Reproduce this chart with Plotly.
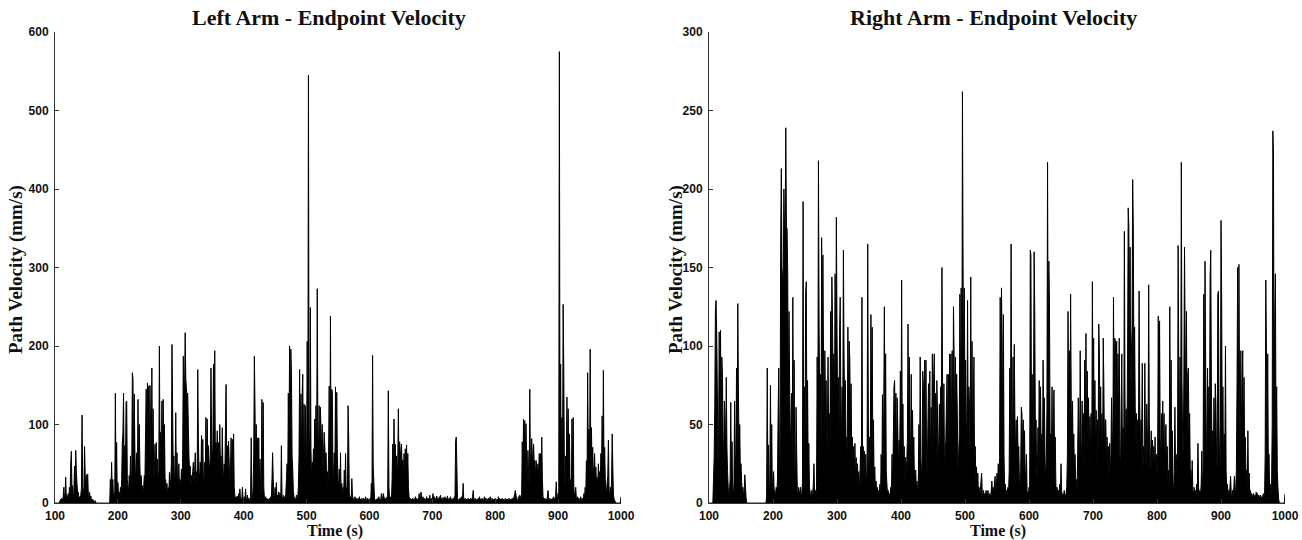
import plotly.graph_objects as go

# ---- data: velocity samples, one value per second, rows of 10 s starting at t = 100 s ----
t_start = 100
x_ticks = [100, 200, 300, 400, 500, 600, 700, 800, 900, 1000]
left_y_ticks = [0, 100, 200, 300, 400, 500, 600]
right_y_ticks = [0, 50, 100, 150, 200, 250, 300]

left_rows = [
    [0,0,0,0,0,0,0,0,3,5],
    [3,6,2,8,20,5,12,33,6,10],
    [4,12,6,20,9,50,66,15,22,8],
    [12,47,20,67,39,25,9,14,5,8],
    [4,10,18,112,22,12,20,72,37,15],
    [36,20,37,10,6,14,4,9,3,5],
    [2,4,1,2,3,1,0,0,0,0],
    [0,0,0,0,0,0,0,0,0,0],
    [0,0,0,0,0,0,0,0,30,12],
    [52,18,30,6,12,4,140,20,77,8],
    [26,10,14,6,20,8,30,75,90,140],
    [25,73,40,128,130,30,22,12,35,20],
    [60,15,40,166,158,50,139,70,28,40],
    [64,30,132,40,100,47,20,35,15,22],
    [12,20,35,30,88,145,60,153,90,149],
    [60,150,100,40,172,50,120,30,40,75],
    [35,77,30,56,25,40,200,50,90,45],
    [130,60,132,50,100,30,30,15,25,10],
    [20,12,39,15,30,50,202,124,40,60],
    [25,40,115,30,64,20,35,50,15,30],
    [20,43,25,60,187,147,145,217,158,145],
    [132,140,100,60,40,47,20,35,30,40],
    [52,25,40,64,30,40,20,170,81,40],
    [30,52,35,86,40,81,25,30,52,35],
    [109,40,107,55,73,50,40,60,172,86],
    [50,70,177,80,194,60,77,60,92,50],
    [77,40,100,50,60,30,96,43,30,50],
    [30,92,151,60,73,40,79,52,25,40],
    [83,30,81,25,88,20,10,4,8,3],
    [9,3,12,5,18,4,6,3,20,5],
    [4,8,3,18,5,4,10,3,6,4],
    [5,8,83,6,3,20,60,187,124,40],
    [100,30,83,25,83,20,56,15,10,132],
    [40,128,20,6,4,8,3,6,4,5],
    [3,6,4,8,5,30,64,31,10,6],
    [20,8,26,5,10,4,14,6,12,5],
    [73,6,4,10,3,8,5,12,30,50],
    [20,140,60,200,80,196,164,60,43,15],
    [8,5,4,6,10,3,8,20,60,170],
    [40,139,60,137,164,50,126,30,124,77],
    [40,206,60,545,92,40,249,69,30,52],
    [40,69,50,107,60,124,40,273,94,60],
    [124,50,122,94,60,100,40,64,90,73],
    [50,64,30,40,20,60,149,30,238,50],
    [145,141,30,40,64,30,148,40,141,60],
    [30,20,43,15,64,10,25,8,20,12],
    [42,10,63,15,20,8,124,84,12,6],
    [8,4,31,10,6,5,3,8,4,6],
    [5,3,6,4,8,3,5,4,6,3],
    [4,6,3,5,8,3,4,6,3,5],
    [4,6,3,25,8,188,46,27,6,4],
    [3,5,4,6,3,8,4,5,3,12],
    [4,6,12,8,5,4,6,3,8,5],
    [143,20,6,4,8,3,30,75,20,107],
    [54,75,40,60,35,50,120,40,78,67],
    [45,75,40,55,30,63,40,69,35,74],
    [40,63,20,8,4,6,3,5,4,6],
    [3,5,4,8,4,6,3,5,4,12],
    [5,4,14,6,3,8,4,6,3,5],
    [4,8,3,6,5,4,10,3,6,4],
    [5,12,4,8,3,6,5,9,4,6],
    [3,8,5,10,4,6,3,7,5,4],
    [8,3,6,4,9,5,3,6,4,8],
    [3,5,4,6,3,8,4,78,84,46],
    [6,3,5,4,6,3,8,4,5,25],
    [4,3,6,4,5,3,4,6,3,5],
    [4,6,3,5,8,16,4,3,6,4],
    [3,5,4,6,3,8,4,5,3,6],
    [4,3,5,8,4,6,3,5,4,6],
    [3,5,8,4,3,6,4,3,5,4],
    [6,3,4,5,3,8,4,6,3,5],
    [4,6,3,5,4,3,6,4,5,3],
    [5,4,6,3,4,5,3,6,4,5],
    [8,12,16,10,6,4,3,8,5,10],
    [8,5,10,78,30,107,40,105,60,101],
    [46,30,67,40,20,145,40,60,82,63],
    [40,75,50,54,30,54,46,40,50,30],
    [63,40,63,20,84,30,8,5,4,6],
    [3,5,4,8,16,5,3,6,4,5],
    [3,6,4,8,5,3,8,27,10,6],
    [12,8,575,60,177,40,109,30,253,173],
    [40,20,60,30,135,50,120,40,88,20],
    [30,10,107,40,109,20,8,12,20,6],
    [5,8,4,6,3,5,8,4,3,6],
    [4,12,6,20,10,54,30,166,60,94],
    [40,196,50,96,40,71,30,45,63,30],
    [46,25,33,20,50,30,40,25,63,40],
    [111,50,169,40,71,30,20,10,25,35],
    [80,15,10,20,8,30,88,46,10,5],
    [3,2,0,0,0,0,0,0,0,0],
    [8],
]

right_rows = [
    [0,0,0,0,0,0,0,14,29,60],
    [122,129,110,74,23,45,109,27,110,40],
    [93,82,42,25,65,55,30,80,36,20],
    [10,4,8,15,64,20,39,8,5,12],
    [65,31,20,86,40,127,70,30,50,20],
    [25,14,6,10,4,8,18,10,3,0],
    [0,0,0,0,0,0,0,0,0,0],
    [0,0,0,0,0,0,0,0,0,0],
    [0,0,0,0,0,0,0,0,0,0],
    [4,86,8,37,5,12,75,20,50,6],
    [14,20,5,8,3,10,6,15,57,86],
    [31,20,169,213,150,144,140,200,173,175],
    [239,175,175,146,60,122,76,40,48,70],
    [20,131,40,91,25,12,61,33,8,5],
    [10,4,8,10,3,6,13,192,20,74],
    [30,133,141,40,78,20,38,10,6,4],
    [8,3,6,12,25,5,8,4,10,93],
    [40,218,114,60,82,30,169,90,158,91],
    [40,97,60,78,30,48,93,40,57,30],
    [122,60,144,116,70,95,50,146,80,182],
    [112,60,80,40,108,131,67,40,74,50],
    [161,95,60,78,40,42,30,112,60,103],
    [91,50,76,30,42,25,36,20,38,15],
    [29,12,25,10,20,8,19,36,12,131],
    [20,36,15,33,10,31,12,20,165,53],
    [20,42,30,120,60,112,30,53,12,23],
    [8,14,5,10,4,8,6,12,3,31],
    [10,69,20,59,125,40,95,20,12,5],
    [8,3,6,4,10,5,31,12,40,74],
    [78,40,70,30,67,48,20,40,30,84],
    [30,142,40,63,20,36,10,29,15,27],
    [40,114,30,93,50,20,82,30,59,25],
    [42,15,20,21,8,14,5,12,50,20],
    [93,27,15,30,84,74,30,91,40,91],
    [29,15,50,76,30,84,20,61,40,95],
    [30,80,95,40,70,20,78,59,20,40],
    [63,30,74,40,150,74,30,76,20,31],
    [40,63,82,30,82,40,95,50,95,40],
    [97,40,125,95,40,93,60,82,57,20],
    [30,42,133,60,137,40,262,152,60,137],
    [50,91,53,30,129,40,74,63,30,144],
    [40,103,31,60,93,20,36,12,23,8],
    [19,6,10,5,8,14,19,6,4,8],
    [3,6,5,8,4,6,8,3,6,5],
    [4,8,14,6,10,5,12,17,8,10],
    [19,12,25,10,29,131,60,137,105,40],
    [120,30,8,12,5,8,4,10,6,20],
    [86,40,165,48,30,93,40,101,53,30],
    [53,20,55,30,36,15,12,20,61,57],
    [30,53,20,46,15,20,31,8,6,4],
    [10,5,161,158,40,82,30,60,160,122],
    [40,53,20,15,48,30,78,20,74,30],
    [44,20,91,40,67,30,15,25,60,217],
    [80,154,127,40,44,30,74,20,53,72],
    [30,42,12,6,10,4,8,5,12,3],
    [25,8,4,6,3,8,5,4,6,10],
    [30,122,40,97,30,133,67,20,65,30],
    [44,20,31,10,15,8,30,67,48,20],
    [97,42,20,65,30,57,20,91,30,108],
    [40,84,30,67,20,55,30,57,20,141],
    [60,105,40,78,30,59,20,53,30,114],
    [95,40,74,30,57,20,105,74,30,53],
    [53,25,42,20,36,15,38,20,30,67],
    [46,25,131,60,105,103,50,103,40,95],
    [50,105,31,20,60,95,30,48,20,173],
    [67,30,60,40,90,188,176,120,163,60],
    [95,112,206,175,80,112,61,40,57,30],
    [53,40,135,63,30,53,40,89,20,36],
    [30,89,36,20,63,42,30,139,53,20],
    [30,46,20,40,25,36,20,42,15,31],
    [20,30,119,40,116,44,20,57,30,65],
    [30,57,20,40,50,20,36,15,21,8],
    [125,40,91,20,46,12,8,20,61,20],
    [31,20,15,164,89,40,93,30,217,80],
    [40,30,82,163,103,60,122,40,82,86],
    [40,57,20,21,10,27,8,5,10,4],
    [8,3,12,6,38,10,4,8,5,12],
    [33,10,20,133,40,154,93,20,50,86],
    [30,74,40,144,161,74,30,46,20,67],
    [30,76,63,30,20,133,135,48,20,30],
    [180,135,40,74,20,44,30,100,20,8],
    [12,5,8,4,10,17,6,3,8,4],
    [10,17,6,8,20,74,150,40,152,74],
    [30,97,40,80,97,40,80,30,42,20],
    [21,8,46,10,19,6,8,4,6,5],
    [3,6,4,5,3,7,4,6,3,5],
    [4,3,5,2,4,3,6,4,3,30],
    [142,97,40,95,20,31,8,12,5,10],
    [50,237,223,60,120,146,40,74,20,10],
    [3,0,0,0,0,0,0,0,0,0],
    [6],
]


def flatten(rows):
    ts, vs = [], []
    for k, row in enumerate(rows):
        for j, v in enumerate(row):
            ts.append(t_start + 10 * k + j)
            vs.append(v)
    return ts, vs


left_t, left_v = flatten(left_rows)
right_t, right_v = flatten(right_rows)

W, H = 1302, 540
L_X0, L_X1 = 55, 621
R_X0, R_X1 = 709, 1285
Y_TOP, Y_BOT = 32, 503

serif = "Liberation Serif, Times New Roman, serif"
narrow = "Liberation Sans Narrow, Liberation Sans, Arial, sans-serif"

fig = go.Figure()
for tt, vv, xa, ya in ((left_t, left_v, "x", "y"), (right_t, right_v, "x2", "y2")):
    fig.add_trace(go.Scatter(x=tt, y=vv, mode="lines", fill="tozeroy",
                             fillcolor="#000000",
                             line=dict(color="#000000", width=1, simplify=False),
                             xaxis=xa, yaxis=ya, showlegend=False, hoverinfo="skip"))

tickfont = dict(family=narrow, size=12, color="#111111", weight="bold")
common_x = dict(range=[100, 1000], tickvals=x_ticks, ticks="inside", ticklen=4,
                tickcolor="#333333", showline=True, linecolor="#333333", linewidth=1,
                showgrid=False, zeroline=False, tickfont=tickfont, ticklabelstandoff=2,
                automargin=False)
common_y = dict(ticks="inside", ticklen=4, tickcolor="#333333", showline=True,
                linecolor="#333333", linewidth=1, showgrid=False, zeroline=False,
                tickfont=tickfont, ticklabelstandoff=3, automargin=False)

y_dom = [1 - Y_BOT / H, 1 - Y_TOP / H]
fig.update_layout(
    template="none",
    width=W, height=H,
    margin=dict(l=0, r=0, t=0, b=0, pad=0),
    paper_bgcolor="white", plot_bgcolor="white",
    showlegend=False,
    xaxis=dict(domain=[L_X0 / W, L_X1 / W], anchor="y", **common_x),
    yaxis=dict(domain=y_dom, anchor="x", range=[0, 600], tickvals=left_y_ticks, **common_y),
    xaxis2=dict(domain=[R_X0 / W, R_X1 / W], anchor="y2", **common_x),
    yaxis2=dict(domain=y_dom, anchor="x2", range=[0, 300], tickvals=right_y_ticks, **common_y),
)

title_font = dict(family=serif, size=22, color="#111111", weight="bold")
xlabel_font = dict(family=serif, size=16, color="#111111", weight="bold")
ylabel_font = dict(family=serif, size=19, color="#111111", weight="bold")


def ann(text, x, y, font, angle=0):
    fig.add_annotation(text=text, x=x / W, y=1 - y / H, xref="paper", yref="paper",
                       showarrow=False, font=font, textangle=angle,
                       xanchor="center", yanchor="middle")


ann("Left Arm - Endpoint Velocity", 329, 18, title_font)
ann("Right Arm - Endpoint Velocity", 993, 18, title_font)
ann("Time (s)", 335, 531, xlabel_font)
ann("Time (s)", 998, 531, xlabel_font)
ann("Path Velocity (mm/s)", 16, 270, ylabel_font, -90)
ann("Path Velocity (mm/s)", 676, 270, ylabel_font, -90)

fig.write_html("out.html", config={"displayModeBar": False},
               post_script="document.body.style.margin='0px';"
               "document.body.style.overflow='hidden';")
